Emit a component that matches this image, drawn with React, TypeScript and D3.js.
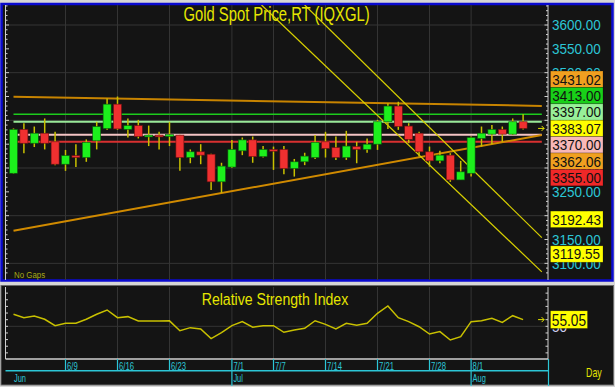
import React from 'react';
import * as d3 from 'd3';

// daily candles, 6/2 .. 8/8
const OPEN = [3289, 3381, 3352, 3373, 3355, 3308, 3326, 3322, 3357, 3383, 3434, 3381, 3389, 3367, 3369, 3367, 3369, 3322, 3334, 3329,
  3271, 3302, 3336, 3359, 3324, 3339, 3339, 3299, 3313, 3322, 3355, 3343, 3322, 3345, 3339, 3350, 3397, 3430, 3388, 3373,
  3334, 3315, 3327, 3275, 3289, 3362, 3371, 3381, 3371, 3397];
const HIGH = [3383, 3394, 3387, 3404, 3376, 3338, 3350, 3360, 3397, 3446, 3450, 3404, 3401, 3389, 3376, 3397, 3370, 3339, 3350, 3330,
  3311, 3359, 3364, 3366, 3346, 3345, 3346, 3319, 3332, 3369, 3376, 3366, 3378, 3355, 3362, 3401, 3436, 3439, 3394, 3376,
  3345, 3336, 3331, 3315, 3366, 3387, 3390, 3387, 3404, 3413];
const LOW = [3288, 3331, 3344, 3339, 3306, 3294, 3302, 3313, 3339, 3380, 3380, 3364, 3362, 3346, 3339, 3346, 3294, 3310, 3308, 3254,
  3248, 3300, 3327, 3311, 3322, 3296, 3287, 3282, 3306, 3319, 3322, 3317, 3317, 3310, 3332, 3338, 3382, 3380, 3352, 3324,
  3303, 3310, 3271, 3275, 3282, 3345, 3350, 3355, 3369, 3381];
const CLOSE = [3381, 3352, 3373, 3352, 3308, 3326, 3322, 3354, 3387, 3434, 3382, 3389, 3366, 3369, 3367, 3370, 3322, 3334, 3327, 3271,
  3304, 3339, 3359, 3324, 3339, 3336, 3299, 3313, 3325, 3354, 3341, 3322, 3346, 3339, 3350, 3397, 3430, 3387, 3360, 3334,
  3315, 3327, 3275, 3292, 3364, 3373, 3381, 3371, 3397, 3383.07];

const RSI = [59.1, 56.5, 57.8, 55.3, 50.5, 52.3, 52.3, 55.3, 59.1, 62.3, 56.5, 57.3, 54.0, 54.1, 54.0, 54.1, 46.7, 49.0, 48.0, 40.7,
  45.2, 50.5, 53.5, 49.3, 50.5, 50.5, 45.5, 47.2, 48.5, 54.2, 51.5, 48.0, 52.3, 50.8, 52.3, 59.8, 65.3, 56.5, 53.5, 49.7,
  44.2, 46.0, 39.7, 42.2, 53.5, 54.2, 56.0, 53.0, 58.0, 55.05];

const DATE_TICKS = [
  { i: 5, label: '6/9' }, { i: 10, label: '6/16' }, { i: 15, label: '6/23' }, { i: 21, label: '7/1' },
  { i: 25, label: '7/7' }, { i: 30, label: '7/14' }, { i: 35, label: '7/21' }, { i: 40, label: '7/28' }, { i: 44, label: '8/1' },
];
const MONTHS = [{ i: 0, label: 'Jun' }, { i: 21, label: 'Jul' }, { i: 44, label: 'Aug' }];

// drawn studies: [index, price] anchors
const TREND_TOP = [[0, 3449.6], [49, 3431.02]];
const TREND_RISE = [[0, 3168.5], [49, 3362.06]];
const CHANNEL_A = [[28, 3642], [49, 3192.43]];
const CHANNEL_B = [[23.85, 3642], [49, 3119.55]];
const LEVELS = [3413, 3397, 3370, 3355];
const LINE_END = 50.8;

const PRICE_TICKS = [3100, 3150, 3200, 3250, 3300, 3350, 3400, 3450, 3500, 3550, 3600];
const STACK_LABELS = [3431.02, 3413, 3397, 3383.07, 3370, 3362.06, 3355];
const LOW_LABELS = [3192.43, 3119.55];

const levelColors = ['#1ccc1c', '#98e898', '#f4c4c4', '#d83030'];
const stackColors = ['#f0a020', '#18d018', '#98f098', '#ffff00', '#f8b8b8', '#f0a020', '#f02828'];

const W = 615;
const H = 387;
const PLOT = { left: 5.5, right: 548, top: 5, bottom: 280 };
const RSI_PLOT = { top: 287, bottom: 359 };
const AX = '#cfcfcf';
const CYAN = '#2cc6d6';
const YEL = '#e6e600';
const WICK = '#c8c000';
const FONT = '"Liberation Sans", Arial, sans-serif';

function CText(p: { x: number; y: number; sx: number; size: number; fill: string; anchor?: string; children: React.ReactNode }) {
  return (
    <text transform={`translate(${p.x},${p.y}) scale(${p.sx},1)`} fontSize={p.size} fill={p.fill}
      textAnchor={p.anchor || 'start'} fontFamily={FONT}>{p.children}</text>
  );
}

export default function App() {
  const x = d3.scaleLinear().domain([0, 49]).range([13.5, 523.1]);
  const y = d3.scaleLinear().domain([3600, 3100]).range([25, 263.35]);
  const ry = d3.scaleLinear().domain([80, 25]).range([286.5, 359.5]);

  const ext = (pts: number[][]) => {
    const [[i0, p0], [i1, p1]] = pts;
    const k = (p1 - p0) / (i1 - i0);
    return [[i0, p0], [LINE_END, p1 + k * (LINE_END - i1)]];
  };
  const line = d3.line<number[]>().x(d => x(d[0])).y(d => y(d[1]));
  const rsiLine = d3.line<number>().x((_, i) => x(i)).y(d => ry(d));

  // stack the price labels around the last price
  const lh = 16.4;
  const anchor = STACK_LABELS.indexOf(3383.07);
  const stackY: number[] = STACK_LABELS.map(v => y(v));
  for (let i = anchor - 1; i >= 0; i--) stackY[i] = Math.min(y(STACK_LABELS[i]), stackY[i + 1] - lh);
  for (let i = anchor + 1; i < STACK_LABELS.length; i++) stackY[i] = Math.max(y(STACK_LABELS[i]), stackY[i - 1] + lh);

  const minorTicks = d3.range(3080, 3660, 10);
  const rsiTicks = d3.range(30, 80, 5);
  const bw = 8;

  return (
    <svg width={W} height={H} style={{ position: 'absolute', left: 0, top: 0 }} fontFamily={FONT}>
      <defs>
        <clipPath id="main-clip">
          <rect x={PLOT.left} y={PLOT.top} width={PLOT.right - PLOT.left} height={PLOT.bottom - PLOT.top} />
        </clipPath>
      </defs>
      <rect width={W} height={H} fill="#d6d6d6" />
      {/* main panel */}
      <rect x={1.5} y={4} width={611} height={276.5} fill="#141414" stroke="#0a0ad0" strokeWidth={2.5} />
      {/* rsi panel */}
      <rect x={1} y={285.5} width={612.5} height={99.5} fill="#141414" stroke="#6a6a6a" strokeWidth={1} />

      {/* grid */}
      {d3.range(3100, 3700, 100).map(v => (
        <line key={'hg' + v} x1={PLOT.left} x2={PLOT.right} y1={y(v)} y2={y(v)} stroke="#343434" />
      ))}
      {DATE_TICKS.map(t => (
        <g key={'vg' + t.i}>
          <line x1={x(t.i)} x2={x(t.i)} y1={PLOT.top} y2={PLOT.bottom} stroke="#343434" />
          <line x1={x(t.i)} x2={x(t.i)} y1={RSI_PLOT.top} y2={RSI_PLOT.bottom} stroke="#343434" />
        </g>
      ))}
      <line x1={PLOT.left} x2={PLOT.right} y1={ry(50)} y2={ry(50)} stroke="#343434" />

      {/* studies */}
      <g clipPath="url(#main-clip)" fill="none">
        <path d={line(ext(TREND_TOP)) || ''} stroke="#c88400" strokeWidth={2} />
        {LEVELS.map((v, i) => (
          <line key={'lv' + v} x1={x(0)} x2={x(LINE_END)} y1={y(v)} y2={y(v)} stroke={levelColors[i]} strokeWidth={i === 0 ? 1.5 : 2} />
        ))}
        <path d={line(ext(TREND_RISE)) || ''} stroke="#d08a00" strokeWidth={2} />
        <path d={line(ext(CHANNEL_A)) || ''} stroke="#d8d000" strokeWidth={1.2} />
        <path d={line(ext(CHANNEL_B)) || ''} stroke="#d8d000" strokeWidth={1.2} />
      </g>

      {/* candles */}
      {OPEN.map((o, i) => {
        const c = CLOSE[i];
        const up = c >= o;
        const top = y(Math.max(o, c));
        const h = Math.max(1.8, y(Math.min(o, c)) - top);
        return (
          <g key={'c' + i}>
            <line x1={x(i)} x2={x(i)} y1={y(HIGH[i])} y2={y(LOW[i])} stroke={WICK} strokeWidth={1.5} />
            <rect x={x(i) - bw / 2} y={top} width={bw} height={h}
              fill={up ? '#1cf01c' : '#f03030'} stroke={up ? '#0a5a0a' : '#6a1010'} strokeWidth={0.6} />
          </g>
        );
      })}
      <path d={`M${x(49) + 15},${y(3383.07)}h6m-2.5,-2.5l2.5,2.5l-2.5,2.5`} stroke={YEL} fill="none" strokeWidth={1} />

      {/* main axes */}
      <line x1={PLOT.left} x2={PLOT.left} y1={PLOT.top} y2={PLOT.bottom} stroke={AX} />
      <line x1={PLOT.right} x2={PLOT.right} y1={PLOT.top} y2={PLOT.bottom} stroke={AX} />
      {minorTicks.filter(v => y(v) > PLOT.top && y(v) < PLOT.bottom).map(v => {
        const len = v % 50 === 0 ? 3.5 : 2;
        return (
          <g key={'mt' + v}>
            <line x1={PLOT.left} x2={PLOT.left + len} y1={y(v)} y2={y(v)} stroke={AX} />
            <line x1={PLOT.right - len} x2={PLOT.right} y1={y(v)} y2={y(v)} stroke={AX} />
          </g>
        );
      })}
      {PRICE_TICKS.map(v => (
        <CText key={'pl' + v} x={552} y={y(v) + 5.3} sx={0.87} size={15.5} fill={CYAN}>{v.toFixed(2)}</CText>
      ))}
      {STACK_LABELS.map((v, i) => (
        <g key={'sl' + v}>
          <rect x={550.5} y={stackY[i] - lh / 2} width={52.5} height={lh} fill={stackColors[i]} stroke="#00000055" strokeWidth={0.6} />
          <CText x={552.3} y={stackY[i] + 5.4} sx={0.87} size={15.5} fill="#111">{v.toFixed(2)}</CText>
        </g>
      ))}
      {LOW_LABELS.map(v => (
        <g key={'ll' + v}>
          <rect x={550.5} y={y(v) - lh / 2} width={52.5} height={lh} fill="#ffff00" stroke="#00000055" strokeWidth={0.6} />
          <CText x={552.3} y={y(v) + 5.4} sx={0.87} size={15.5} fill="#111">{v.toFixed(2)}</CText>
        </g>
      ))}

      <CText x={276.5} y={20.7} sx={0.76} size={19.5} fill={YEL} anchor="middle">Gold Spot Price,RT (IQXGL)</CText>
      <CText x={14} y={278} sx={0.83} size={9.5} fill="#a8a818">No Gaps</CText>

      {/* RSI */}
      <path d={rsiLine(RSI) || ''} fill="none" stroke={WICK} strokeWidth={1.5} />
      <path d={`M${x(49) + 15},${ry(55.05)}h6m-2.5,-2.5l2.5,2.5l-2.5,2.5`} stroke={YEL} fill="none" strokeWidth={1} />
      <line x1={PLOT.left} x2={PLOT.left} y1={RSI_PLOT.top} y2={RSI_PLOT.bottom} stroke={AX} />
      <line x1={PLOT.right} x2={PLOT.right} y1={RSI_PLOT.top} y2={RSI_PLOT.bottom} stroke={AX} />
      {rsiTicks.map(v => (
        <g key={'rt' + v}>
          <line x1={PLOT.left} x2={PLOT.left + 2.5} y1={ry(v)} y2={ry(v)} stroke={AX} />
          <line x1={PLOT.right - 2.5} x2={PLOT.right} y1={ry(v)} y2={ry(v)} stroke={AX} />
        </g>
      ))}
      <CText x={201.7} y={305} sx={0.83} size={17} fill={YEL}>Relative Strength Index</CText>
      <CText x={552} y={ry(50) + 6} sx={0.87} size={15.5} fill="#cfcff0">50</CText>
      <rect x={550.5} y={ry(55.05) - 8.8} width={37} height={17.6} fill="#ffff00" stroke="#00000055" strokeWidth={0.6} />
      <CText x={551.8} y={ry(55.05) + 6} sx={0.83} size={16.5} fill="#111">{RSI[RSI.length - 1].toFixed(2)}</CText>

      {/* date axis */}
      <line x1={PLOT.left} x2={PLOT.right} y1={RSI_PLOT.bottom} y2={RSI_PLOT.bottom} stroke={AX} strokeWidth={1.5} />
      <line x1={PLOT.left} x2={PLOT.right} y1={370.7} y2={370.7} stroke={CYAN} strokeWidth={1.5} />
      <line x1={PLOT.right + 0.5} x2={PLOT.right + 0.5} y1={RSI_PLOT.bottom} y2={386} stroke={CYAN} strokeWidth={1.2} />
      {DATE_TICKS.map(t => {
        const month = MONTHS.some(m => m.i === t.i);
        return (
          <g key={'dt' + t.i}>
            <line x1={x(t.i)} x2={x(t.i)} y1={RSI_PLOT.bottom} y2={month ? 386 : 370.7} stroke={CYAN} strokeWidth={1.2} />
            <CText x={x(t.i) + 1.5} y={369.5} sx={0.7} size={11} fill={CYAN}>{t.label}</CText>
          </g>
        );
      })}
      {MONTHS.map(m => (
        <CText key={'m' + m.i} x={m.i === 0 ? x(0) + 0.5 : x(m.i) + 1.5} y={382} sx={0.71} size={10.5} fill={CYAN}>{m.label}</CText>
      ))}
      <CText x={586} y={376.5} sx={0.68} size={13} fill={YEL}>Day</CText>
    </svg>
  );
}
